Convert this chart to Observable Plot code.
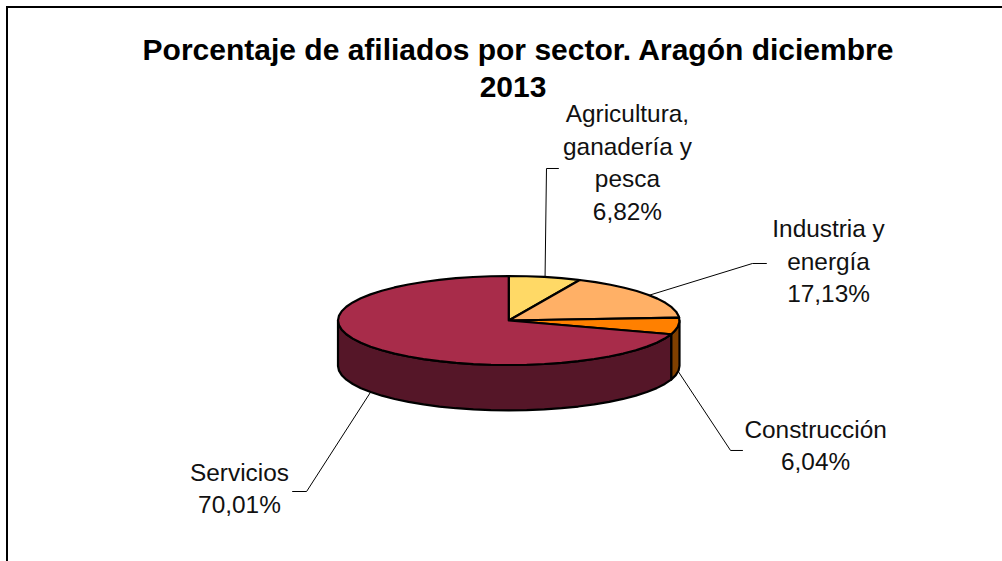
<!DOCTYPE html>
<html lang="es">
<head>
<meta charset="utf-8">
<script src="https://cdn.jsdelivr.net/npm/d3@7"></script>
<script src="https://cdn.jsdelivr.net/npm/@observablehq/plot@0.6"></script>
<style>
html,body{margin:0;padding:0;background:#fff;overflow:hidden}
#wrap{position:relative;width:1002px;height:561px;overflow:hidden;background:#fff}
#border{position:absolute;left:6px;top:6px;width:1100px;height:700px;border-left:2px solid #000;border-top:2px solid #000;pointer-events:none}
#title{position:absolute;left:0;top:31px;width:1002px;text-align:center;font:bold 30px/37px "Liberation Sans",Arial,sans-serif;color:#000}
#title span{display:block;position:relative}
#chart{position:absolute;left:0;top:0}
svg{display:block}
</style>
</head>
<body>
<div id="wrap">
<div id="border"></div>
<div id="chart"></div>
<div id="title"><span style="left:17px">Porcentaje de afiliados por sector. Aragón diciembre</span><span style="left:12px">2013</span></div>
</div>
<script>
const sectors = ["Agricultura,\nganadería y\npesca", "Industria y\nenergía", "Construcción", "Servicios"];
const shares = [6.82, 17.13, 6.04, 70.01];
const topColors = ["#FFD966", "#FFB066", "#FF8000", "#A82C4A"];
const sideColors = ["#806C33", "#805833", "#804000", "#551628"];

// Layout of the labels, in pie units (1 = one radius of the ellipse)
const placement = [
  {elbow: [0.221, 3.416], end: [0.291, 3.416], label: [0.695, 3.528]},
  {elbow: [1.427, 1.281], end: [1.509, 1.281], label: [1.873, 1.303]},
  {elbow: [1.299, -2.921], end: [1.369, -2.921], label: [1.797, -2.831]},
  {elbow: [-1.184, -3.843], end: [-1.266, -3.843], label: [-1.577, -3.798]}
];
const depth = 1.02;
const stepDeg = 6;
const rad = d => d * Math.PI / 180;

const total = d3.sum(shares);
let acc = 0;
const slices = sectors.map((name, i) => {
  const a0 = acc / total * 360;
  acc += shares[i];
  return {i, name, a0, a1: acc / total * 360, mid: (a0 + acc / total * 360) / 2};
});

const arc = (a0, a1) => {
  const out = [];
  for (let a = a0; a < a1; a += stepDeg) out.push(a);
  out.push(a1);
  return out;
};
const px = a => Math.sin(rad(a));
const py = a => Math.cos(rad(a));

const walls = [];
const faces = [];
for (const s of slices) {
  const lo = Math.max(s.a0, 90), hi = Math.min(s.a1, 270);
  if (hi > lo) {
    const as = arc(lo, hi);
    const key = "w" + s.i;
    as.forEach(a => walls.push({key, x: px(a), y: py(a), fill: sideColors[s.i]}));
    as.slice().reverse().forEach(a => walls.push({key, x: px(a), y: py(a) - depth, fill: sideColors[s.i]}));
  }
  const key = "f" + s.i;
  faces.push({key, x: 0, y: 0, fill: topColors[s.i]});
  arc(s.a0, s.a1).forEach(a => faces.push({key, x: px(a), y: py(a), fill: topColors[s.i]}));
}

const leaders = [];
const labels = [];
slices.forEach((s, i) => {
  const p = placement[i];
  const onWall = s.mid > 90 && s.mid < 270;
  const start = [px(s.mid), py(s.mid) - (onWall ? depth : 0)];
  [start, p.elbow, p.end].forEach(c => leaders.push({key: i, x: c[0], y: c[1]}));
  labels.push({x: p.label[0], y: p.label[1],
    text: s.name + "\n" + shares[i].toFixed(2).replace(".", ",") + "%"});
});

const chart = Plot.plot({
  width: 1002, height: 561,
  margin: 0,
  style: {background: "transparent"},
  x: {type: "linear", domain: [-1, 1], range: [337.5, 679], axis: null},
  y: {type: "linear", domain: [-1, 1], range: [364.5, 275.5], axis: null},
  marks: [
    Plot.line(leaders, {x: "x", y: "y", z: "key", stroke: "#000", strokeWidth: 1, curve: "linear"}),
    Plot.line(walls, {x: "x", y: "y", z: "key", fill: "fill", stroke: "#000", strokeWidth: 2.2, curve: "linear-closed", strokeLinejoin: "round"}),
    Plot.line(faces, {x: "x", y: "y", z: "key", fill: "fill", stroke: "#000", strokeWidth: 2.2, curve: "linear-closed", strokeLinejoin: "round"}),
    Plot.text(labels, {x: "x", y: "y", text: "text", dy: -3, fontSize: 24.4, lineHeight: 1.33, textAnchor: "middle", lineAnchor: "middle", fill: "#111", fontFamily: "Liberation Sans, Arial, sans-serif"})
  ]
});
document.getElementById("chart").appendChild(chart);
</script>
</body>
</html>
